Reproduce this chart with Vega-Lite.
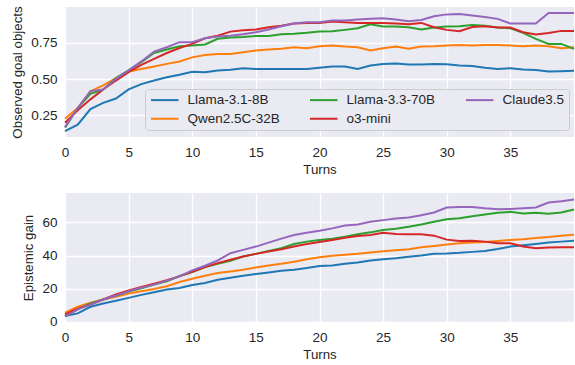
{
  "$schema": "https://vega.github.io/schema/vega-lite/v6.json",
  "background": "white",
  "padding": {"left": 10, "top": 5, "right": 1, "bottom": 0},
  "datasets": {
    "d": [
      {"t":0,"m":"Llama-3.1-8B","o":0.14,"g":3.4},{"t":1,"m":"Llama-3.1-8B","o":0.185,"g":5.0},{"t":2,"m":"Llama-3.1-8B","o":0.293,"g":9.0},{"t":3,"m":"Llama-3.1-8B","o":0.336,"g":11},{"t":4,"m":"Llama-3.1-8B","o":0.366,"g":12.6},{"t":5,"m":"Llama-3.1-8B","o":0.429,"g":14.4},{"t":6,"m":"Llama-3.1-8B","o":0.465,"g":16.2},{"t":7,"m":"Llama-3.1-8B","o":0.49,"g":17.8},{"t":8,"m":"Llama-3.1-8B","o":0.513,"g":19.4},{"t":9,"m":"Llama-3.1-8B","o":0.53,"g":20.4},{"t":10,"m":"Llama-3.1-8B","o":0.55,"g":22.2},{"t":11,"m":"Llama-3.1-8B","o":0.548,"g":23.4},{"t":12,"m":"Llama-3.1-8B","o":0.56,"g":25.4},{"t":13,"m":"Llama-3.1-8B","o":0.565,"g":26.6},{"t":14,"m":"Llama-3.1-8B","o":0.575,"g":27.8},{"t":15,"m":"Llama-3.1-8B","o":0.57,"g":28.8},{"t":16,"m":"Llama-3.1-8B","o":0.57,"g":29.8},{"t":17,"m":"Llama-3.1-8B","o":0.57,"g":30.8},{"t":18,"m":"Llama-3.1-8B","o":0.57,"g":31.4},{"t":19,"m":"Llama-3.1-8B","o":0.57,"g":32.4},{"t":20,"m":"Llama-3.1-8B","o":0.578,"g":33.6},{"t":21,"m":"Llama-3.1-8B","o":0.587,"g":34},{"t":22,"m":"Llama-3.1-8B","o":0.587,"g":35},{"t":23,"m":"Llama-3.1-8B","o":0.57,"g":35.8},{"t":24,"m":"Llama-3.1-8B","o":0.594,"g":37},{"t":25,"m":"Llama-3.1-8B","o":0.605,"g":37.8},{"t":26,"m":"Llama-3.1-8B","o":0.607,"g":38.4},{"t":27,"m":"Llama-3.1-8B","o":0.6,"g":39.2},{"t":28,"m":"Llama-3.1-8B","o":0.6,"g":40},{"t":29,"m":"Llama-3.1-8B","o":0.605,"g":41},{"t":30,"m":"Llama-3.1-8B","o":0.603,"g":41.2},{"t":31,"m":"Llama-3.1-8B","o":0.594,"g":41.6},{"t":32,"m":"Llama-3.1-8B","o":0.59,"g":42.2},{"t":33,"m":"Llama-3.1-8B","o":0.578,"g":42.8},{"t":34,"m":"Llama-3.1-8B","o":0.57,"g":44},{"t":35,"m":"Llama-3.1-8B","o":0.575,"g":45.4},{"t":36,"m":"Llama-3.1-8B","o":0.566,"g":46.2},{"t":37,"m":"Llama-3.1-8B","o":0.562,"g":47},{"t":38,"m":"Llama-3.1-8B","o":0.553,"g":47.8},{"t":39,"m":"Llama-3.1-8B","o":0.555,"g":48.4},{"t":40,"m":"Llama-3.1-8B","o":0.557,"g":49},
      {"t":0,"m":"Qwen2.5C-32B","o":0.226,"g":5.4},{"t":1,"m":"Qwen2.5C-32B","o":0.30,"g":9},{"t":2,"m":"Qwen2.5C-32B","o":0.415,"g":11.4},{"t":3,"m":"Qwen2.5C-32B","o":0.456,"g":13.4},{"t":4,"m":"Qwen2.5C-32B","o":0.507,"g":15},{"t":5,"m":"Qwen2.5C-32B","o":0.553,"g":17},{"t":6,"m":"Qwen2.5C-32B","o":0.57,"g":18.4},{"t":7,"m":"Qwen2.5C-32B","o":0.587,"g":19.8},{"t":8,"m":"Qwen2.5C-32B","o":0.605,"g":21.4},{"t":9,"m":"Qwen2.5C-32B","o":0.622,"g":24},{"t":10,"m":"Qwen2.5C-32B","o":0.65,"g":26},{"t":11,"m":"Qwen2.5C-32B","o":0.667,"g":27.8},{"t":12,"m":"Qwen2.5C-32B","o":0.674,"g":29.4},{"t":13,"m":"Qwen2.5C-32B","o":0.674,"g":30.4},{"t":14,"m":"Qwen2.5C-32B","o":0.686,"g":31.4},{"t":15,"m":"Qwen2.5C-32B","o":0.697,"g":32.8},{"t":16,"m":"Qwen2.5C-32B","o":0.704,"g":34},{"t":17,"m":"Qwen2.5C-32B","o":0.709,"g":35},{"t":18,"m":"Qwen2.5C-32B","o":0.72,"g":36.2},{"t":19,"m":"Qwen2.5C-32B","o":0.713,"g":37.8},{"t":20,"m":"Qwen2.5C-32B","o":0.727,"g":39},{"t":21,"m":"Qwen2.5C-32B","o":0.732,"g":39.8},{"t":22,"m":"Qwen2.5C-32B","o":0.725,"g":40.4},{"t":23,"m":"Qwen2.5C-32B","o":0.72,"g":41},{"t":24,"m":"Qwen2.5C-32B","o":0.697,"g":41.8},{"t":25,"m":"Qwen2.5C-32B","o":0.713,"g":42.6},{"t":26,"m":"Qwen2.5C-32B","o":0.725,"g":43.2},{"t":27,"m":"Qwen2.5C-32B","o":0.709,"g":43.8},{"t":28,"m":"Qwen2.5C-32B","o":0.725,"g":45},{"t":29,"m":"Qwen2.5C-32B","o":0.727,"g":45.8},{"t":30,"m":"Qwen2.5C-32B","o":0.732,"g":46.7},{"t":31,"m":"Qwen2.5C-32B","o":0.736,"g":47.4},{"t":32,"m":"Qwen2.5C-32B","o":0.732,"g":47.8},{"t":33,"m":"Qwen2.5C-32B","o":0.736,"g":48.2},{"t":34,"m":"Qwen2.5C-32B","o":0.736,"g":48.8},{"t":35,"m":"Qwen2.5C-32B","o":0.732,"g":49.4},{"t":36,"m":"Qwen2.5C-32B","o":0.727,"g":49.8},{"t":37,"m":"Qwen2.5C-32B","o":0.732,"g":50.6},{"t":38,"m":"Qwen2.5C-32B","o":0.727,"g":51.2},{"t":39,"m":"Qwen2.5C-32B","o":0.713,"g":52},{"t":40,"m":"Qwen2.5C-32B","o":0.72,"g":52.6},
      {"t":0,"m":"Llama-3.3-70B","o":0.165,"g":3.4},{"t":1,"m":"Llama-3.3-70B","o":0.30,"g":7.4},{"t":2,"m":"Llama-3.3-70B","o":0.398,"g":11},{"t":3,"m":"Llama-3.3-70B","o":0.428,"g":13.4},{"t":4,"m":"Llama-3.3-70B","o":0.507,"g":15.8},{"t":5,"m":"Llama-3.3-70B","o":0.56,"g":18.2},{"t":6,"m":"Llama-3.3-70B","o":0.617,"g":20.2},{"t":7,"m":"Llama-3.3-70B","o":0.68,"g":22.4},{"t":8,"m":"Llama-3.3-70B","o":0.704,"g":24.4},{"t":9,"m":"Llama-3.3-70B","o":0.727,"g":27.6},{"t":10,"m":"Llama-3.3-70B","o":0.732,"g":30},{"t":11,"m":"Llama-3.3-70B","o":0.739,"g":33},{"t":12,"m":"Llama-3.3-70B","o":0.778,"g":35},{"t":13,"m":"Llama-3.3-70B","o":0.787,"g":36.8},{"t":14,"m":"Llama-3.3-70B","o":0.791,"g":39.4},{"t":15,"m":"Llama-3.3-70B","o":0.798,"g":41},{"t":16,"m":"Llama-3.3-70B","o":0.798,"g":42.8},{"t":17,"m":"Llama-3.3-70B","o":0.81,"g":44.4},{"t":18,"m":"Llama-3.3-70B","o":0.814,"g":47},{"t":19,"m":"Llama-3.3-70B","o":0.82,"g":48.4},{"t":20,"m":"Llama-3.3-70B","o":0.828,"g":49.4},{"t":21,"m":"Llama-3.3-70B","o":0.83,"g":50.2},{"t":22,"m":"Llama-3.3-70B","o":0.84,"g":51.4},{"t":23,"m":"Llama-3.3-70B","o":0.851,"g":52.8},{"t":24,"m":"Llama-3.3-70B","o":0.879,"g":54},{"t":25,"m":"Llama-3.3-70B","o":0.863,"g":55.4},{"t":26,"m":"Llama-3.3-70B","o":0.863,"g":56.2},{"t":27,"m":"Llama-3.3-70B","o":0.858,"g":57.4},{"t":28,"m":"Llama-3.3-70B","o":0.842,"g":58.8},{"t":29,"m":"Llama-3.3-70B","o":0.856,"g":60.4},{"t":30,"m":"Llama-3.3-70B","o":0.864,"g":61.9},{"t":31,"m":"Llama-3.3-70B","o":0.865,"g":62.6},{"t":32,"m":"Llama-3.3-70B","o":0.874,"g":63.8},{"t":33,"m":"Llama-3.3-70B","o":0.869,"g":64.8},{"t":34,"m":"Llama-3.3-70B","o":0.856,"g":65.8},{"t":35,"m":"Llama-3.3-70B","o":0.851,"g":66.4},{"t":36,"m":"Llama-3.3-70B","o":0.819,"g":65.4},{"t":37,"m":"Llama-3.3-70B","o":0.778,"g":65.8},{"t":38,"m":"Llama-3.3-70B","o":0.743,"g":65.2},{"t":39,"m":"Llama-3.3-70B","o":0.743,"g":66},{"t":40,"m":"Llama-3.3-70B","o":0.709,"g":67.8},
      {"t":0,"m":"o3-mini","o":0.198,"g":4.4},{"t":1,"m":"o3-mini","o":0.284,"g":7.8},{"t":2,"m":"o3-mini","o":0.36,"g":10.4},{"t":3,"m":"o3-mini","o":0.428,"g":13.4},{"t":4,"m":"o3-mini","o":0.49,"g":16.4},{"t":5,"m":"o3-mini","o":0.548,"g":18.8},{"t":6,"m":"o3-mini","o":0.598,"g":21},{"t":7,"m":"o3-mini","o":0.64,"g":23},{"t":8,"m":"o3-mini","o":0.68,"g":25},{"t":9,"m":"o3-mini","o":0.715,"g":27.4},{"t":10,"m":"o3-mini","o":0.743,"g":30.2},{"t":11,"m":"o3-mini","o":0.782,"g":33},{"t":12,"m":"o3-mini","o":0.8,"g":35.4},{"t":13,"m":"o3-mini","o":0.828,"g":37.4},{"t":14,"m":"o3-mini","o":0.838,"g":39.4},{"t":15,"m":"o3-mini","o":0.842,"g":41},{"t":16,"m":"o3-mini","o":0.858,"g":42.4},{"t":17,"m":"o3-mini","o":0.869,"g":43.8},{"t":18,"m":"o3-mini","o":0.884,"g":45.4},{"t":19,"m":"o3-mini","o":0.888,"g":47},{"t":20,"m":"o3-mini","o":0.888,"g":48.2},{"t":21,"m":"o3-mini","o":0.897,"g":49.4},{"t":22,"m":"o3-mini","o":0.893,"g":50.8},{"t":23,"m":"o3-mini","o":0.888,"g":51.8},{"t":24,"m":"o3-mini","o":0.888,"g":52.4},{"t":25,"m":"o3-mini","o":0.888,"g":53.8},{"t":26,"m":"o3-mini","o":0.884,"g":53},{"t":27,"m":"o3-mini","o":0.879,"g":52.8},{"t":28,"m":"o3-mini","o":0.888,"g":52.8},{"t":29,"m":"o3-mini","o":0.858,"g":52},{"t":30,"m":"o3-mini","o":0.84,"g":49.6},{"t":31,"m":"o3-mini","o":0.83,"g":48.8},{"t":32,"m":"o3-mini","o":0.86,"g":49},{"t":33,"m":"o3-mini","o":0.865,"g":48.4},{"t":34,"m":"o3-mini","o":0.856,"g":47.4},{"t":35,"m":"o3-mini","o":0.856,"g":47.4},{"t":36,"m":"o3-mini","o":0.824,"g":45.4},{"t":37,"m":"o3-mini","o":0.808,"g":44.4},{"t":38,"m":"o3-mini","o":0.819,"g":44.8},{"t":39,"m":"o3-mini","o":0.833,"g":45},{"t":40,"m":"o3-mini","o":0.833,"g":45},
      {"t":0,"m":"Claude3.5","o":0.168,"g":3.0},{"t":1,"m":"Claude3.5","o":0.30,"g":7.4},{"t":2,"m":"Claude3.5","o":0.417,"g":10.4},{"t":3,"m":"Claude3.5","o":0.428,"g":13.4},{"t":4,"m":"Claude3.5","o":0.502,"g":15.8},{"t":5,"m":"Claude3.5","o":0.56,"g":18.4},{"t":6,"m":"Claude3.5","o":0.622,"g":20.6},{"t":7,"m":"Claude3.5","o":0.69,"g":22.4},{"t":8,"m":"Claude3.5","o":0.72,"g":24.8},{"t":9,"m":"Claude3.5","o":0.755,"g":27.4},{"t":10,"m":"Claude3.5","o":0.755,"g":31},{"t":11,"m":"Claude3.5","o":0.782,"g":33.8},{"t":12,"m":"Claude3.5","o":0.794,"g":37},{"t":13,"m":"Claude3.5","o":0.8,"g":41.4},{"t":14,"m":"Claude3.5","o":0.81,"g":43.4},{"t":15,"m":"Claude3.5","o":0.824,"g":45.4},{"t":16,"m":"Claude3.5","o":0.842,"g":47.8},{"t":17,"m":"Claude3.5","o":0.865,"g":50.2},{"t":18,"m":"Claude3.5","o":0.884,"g":52.4},{"t":19,"m":"Claude3.5","o":0.893,"g":53.8},{"t":20,"m":"Claude3.5","o":0.893,"g":55},{"t":21,"m":"Claude3.5","o":0.904,"g":56.4},{"t":22,"m":"Claude3.5","o":0.904,"g":58.2},{"t":23,"m":"Claude3.5","o":0.911,"g":58.8},{"t":24,"m":"Claude3.5","o":0.916,"g":60.4},{"t":25,"m":"Claude3.5","o":0.92,"g":61.4},{"t":26,"m":"Claude3.5","o":0.911,"g":62.4},{"t":27,"m":"Claude3.5","o":0.9,"g":63},{"t":28,"m":"Claude3.5","o":0.908,"g":64.4},{"t":29,"m":"Claude3.5","o":0.934,"g":66},{"t":30,"m":"Claude3.5","o":0.947,"g":69},{"t":31,"m":"Claude3.5","o":0.95,"g":69.4},{"t":32,"m":"Claude3.5","o":0.939,"g":69.4},{"t":33,"m":"Claude3.5","o":0.929,"g":68.6},{"t":34,"m":"Claude3.5","o":0.916,"g":68},{"t":35,"m":"Claude3.5","o":0.884,"g":68.2},{"t":36,"m":"Claude3.5","o":0.884,"g":68.6},{"t":37,"m":"Claude3.5","o":0.884,"g":69},{"t":38,"m":"Claude3.5","o":0.957,"g":72},{"t":39,"m":"Claude3.5","o":0.957,"g":72.8},{"t":40,"m":"Claude3.5","o":0.957,"g":73.8}
    ]
  },
  "data": {"name": "d"},
  "spacing": 17,
  "resolve": {"scale": {"color": "independent"}, "legend": {"color": "independent"}},
  "vconcat": [
    {
      "width": 509,
      "height": 130,
      "mark": {"type": "line", "strokeWidth": 2},
      "encoding": {
        "x": {"field": "t", "type": "quantitative", "scale": {"domain": [0, 40], "nice": false, "zero": false},
              "axis": {"title": "Turns", "values": [0, 5, 10, 15, 20, 25, 30, 35]}},
        "y": {"field": "o", "type": "quantitative", "scale": {"domain": [0.1, 0.998], "nice": false, "zero": false},
              "axis": {"title": "Observed goal objects", "values": [0.25, 0.5, 0.75], "format": ".2f"}},
        "color": {"field": "m", "type": "nominal",
          "scale": {"domain": ["Llama-3.1-8B", "Qwen2.5C-32B", "Llama-3.3-70B", "o3-mini", "Claude3.5"],
                    "range": ["#1f77b4", "#ff7f0e", "#2ca02c", "#d62728", "#9467bd"]},
          "legend": {"orient": "none", "legendX": 80, "legendY": 82, "columns": 3, "title": null,
                     "symbolType": "M-2.5,0H2.5", "symbolSize": 121, "symbolStrokeWidth": 2,
                     "symbolOffset": 9, "labelOffset": 16, "padding": 4, "columnPadding": 26, "rowPadding": 4,
                     "fillColor": "#eaeaf2", "strokeColor": "#cccccc", "cornerRadius": 3,
                     "labelFont": "Liberation Sans", "labelFontSize": 13.5, "labelColor": "#262626", "labelLimit": 0}}
      }
    },
    {
      "width": 509,
      "height": 129,
      "mark": {"type": "line", "strokeWidth": 2},
      "encoding": {
        "x": {"field": "t", "type": "quantitative", "scale": {"domain": [0, 40], "nice": false, "zero": false},
              "axis": {"title": "Turns", "values": [0, 5, 10, 15, 20, 25, 30, 35]}},
        "y": {"field": "g", "type": "quantitative", "scale": {"domain": [-0.2, 77.8], "nice": false, "zero": false},
              "axis": {"title": "Epistemic gain", "values": [0, 20, 40, 60]}},
        "color": {"field": "m", "type": "nominal",
          "scale": {"domain": ["Llama-3.1-8B", "Qwen2.5C-32B", "Llama-3.3-70B", "o3-mini", "Claude3.5"],
                    "range": ["#1f77b4", "#ff7f0e", "#2ca02c", "#d62728", "#9467bd"]},
          "legend": null}
      }
    }
  ],
  "config": {
    "view": {"fill": "#eaeaf2", "stroke": null},
    "axis": {"domain": false, "ticks": false, "grid": true, "gridColor": "#ffffff", "gridWidth": 1.3,
             "labelFont": "Liberation Sans", "labelFontSize": 13.5, "labelColor": "#262626", "labelPadding": 8,
             "titleFont": "Liberation Sans", "titleFontSize": 13.3, "titleColor": "#262626", "titleFontWeight": "normal"},
    "axisX": {"labelFlush": false, "titlePadding": 4},
    "axisY": {"titlePadding": 6}
  }
}
